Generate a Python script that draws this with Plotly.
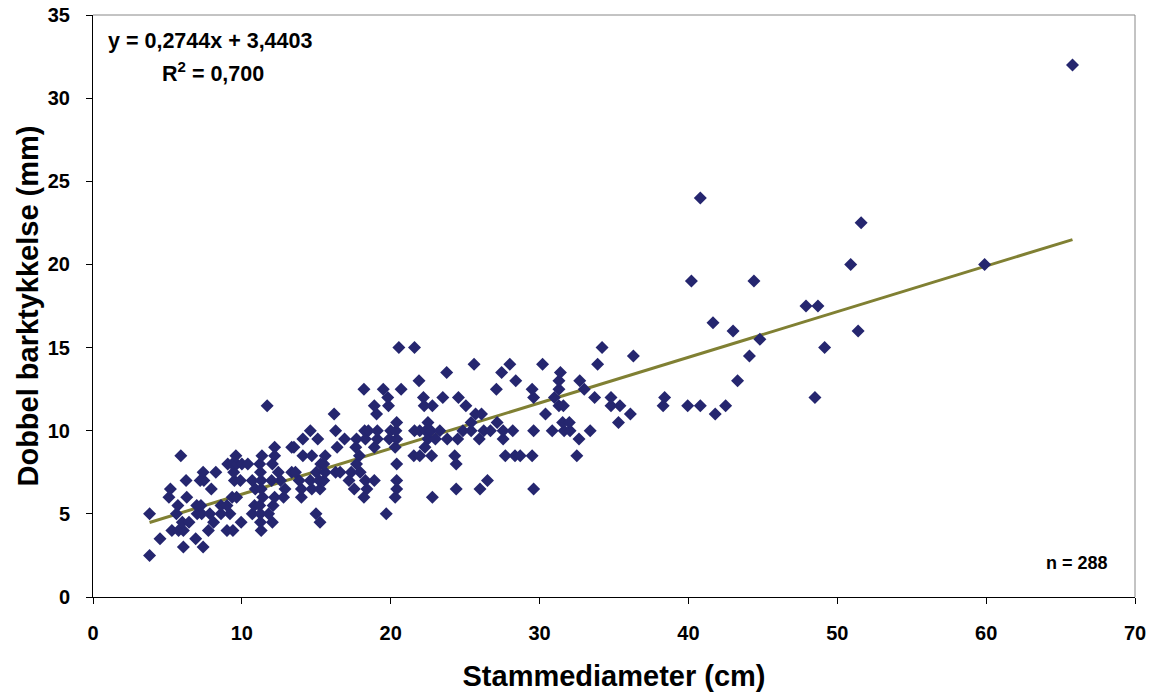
import plotly.graph_objects as go

# Bark thickness values (mm) grouped by level, with stem diameters (cm)
rows = {
    2.5: [3.8],
    3.0: [6.07, 7.4],
    3.5: [4.5, 6.9],
    4.0: [5.3, 5.75, 6.07, 7.75, 9.0, 9.4, 11.3],
    4.5: [6.0, 6.45, 8.1, 9.95, 11.25, 12.05, 15.25],
    5.0: [3.8, 5.6, 7.0, 7.3, 7.85, 8.6, 9.2, 10.7, 11.25, 11.8, 14.98, 19.7],
    5.5: [5.7, 6.97, 7.25, 8.6, 9.0, 10.85, 11.2, 12.1],
    6.0: [5.1, 6.3, 9.35, 9.65, 11.4, 12.2, 12.8, 14.0, 18.2, 20.3, 22.8],
    6.5: [5.2, 7.95, 10.9, 11.3, 12.9, 14.0, 14.7, 15.25, 17.55, 18.4, 20.4, 24.4, 26.0, 29.6],
    7.0: [6.25, 7.2, 7.45, 9.5, 9.9, 10.7, 11.3, 12.0, 12.6, 13.85, 14.6, 15.2, 15.5, 17.2, 18.3, 18.9, 20.4, 26.5],
    7.5: [7.4, 8.25, 9.45, 11.25, 12.45, 13.35, 13.6, 15.0, 15.6, 16.3, 16.6, 17.35, 17.95],
    8.0: [9.05, 9.35, 9.65, 10.0, 10.4, 11.2, 12.05, 15.3, 15.5, 17.7, 20.4, 24.4],
    8.5: [5.9, 9.6, 11.35, 12.2, 14.1, 14.7, 15.6, 17.9, 21.55, 21.95, 22.75, 24.3, 27.7, 28.35, 28.7, 29.5, 32.5],
    9.0: [12.2, 13.35, 13.5, 16.4, 17.65, 18.9, 20.3, 22.3],
    9.5: [14.1, 15.1, 16.9, 17.7, 18.3, 19.1, 19.9, 20.4, 22.5, 23.0, 23.8, 24.5, 25.95, 27.55, 32.65],
    10.0: [14.6, 16.3, 18.25, 18.5, 19.1, 20.0, 20.35, 21.6, 21.95, 22.35, 22.7, 23.3, 24.85, 25.4,
           26.25, 26.7, 27.55, 28.2, 29.6, 30.85, 31.65, 32.05, 33.4],
    10.5: [20.4, 22.5, 25.4, 27.15, 31.55, 32.0, 35.3],
    11.0: [16.2, 19.05, 25.7, 26.1, 30.4, 36.1, 41.8],
    11.5: [11.7, 18.9, 19.85, 22.25, 22.8, 25.05, 31.3, 31.6, 34.8, 35.4, 38.3, 39.95, 40.8, 42.5],
    12.0: [19.8, 22.2, 23.5, 24.55, 29.6, 31.0, 33.7, 34.8, 38.4, 48.5],
    12.5: [18.2, 19.5, 20.7, 27.1, 29.5, 31.3, 33.0],
    13.0: [21.9, 28.4, 31.3, 32.7, 43.3],
    13.5: [23.76, 27.45, 31.4],
    14.0: [25.6, 28.0, 30.2, 33.9],
    14.5: [36.3, 44.1],
    15.0: [20.55, 21.6, 34.2, 49.15],
    15.5: [44.8],
    16.0: [43.0, 51.4],
    16.5: [41.65],
    17.5: [47.9, 48.7],
    19.0: [40.2, 44.4],
    20.0: [50.9, 59.9],
    22.5: [51.6],
    24.0: [40.8],
    32.0: [65.8],
}
diameter = [x for y, xs in rows.items() for x in xs]
bark = [y for y, xs in rows.items() for x in xs]

slope = 0.2744
intercept = 3.4403
trend_x = [min(diameter), max(diameter)]
trend_y = [slope * v + intercept for v in trend_x]

font = "Liberation Sans, Arial, sans-serif"

fig = go.Figure()
fig.add_trace(go.Scatter(x=trend_x, y=trend_y, mode="lines",
                         line=dict(color="#808033", width=3), hoverinfo="skip"))
fig.add_trace(go.Scatter(x=diameter, y=bark, mode="markers",
                         marker=dict(symbol="diamond", size=10, color="#25266f",
                                     line=dict(width=0))))

fig.update_layout(
    width=1154, height=693,
    margin=dict(l=93, r=19, t=15, b=96),
    paper_bgcolor="white", plot_bgcolor="white",
    showlegend=False,
    font=dict(family=font, color="black"),
    xaxis=dict(range=[0, 70], dtick=10, showgrid=False, zeroline=False,
               automargin=False,
               showline=True, linecolor="black", linewidth=1,
               ticks="outside", ticklen=6, tickcolor="black",
               ticklabelstandoff=12,
               tickfont=dict(family=font, size=20, color="black", weight="bold"),
               title=dict(text="Stammediameter (cm)", standoff=22,
                          font=dict(family=font, size=29, color="black", weight="bold"))),
    yaxis=dict(range=[0, 35], dtick=5, showgrid=False, zeroline=False,
               automargin=False,
               showline=True, linecolor="black", linewidth=1,
               ticks="outside", ticklen=6, tickcolor="black",
               ticklabelstandoff=12,
               tickfont=dict(family=font, size=20, color="black", weight="bold"),
               title=dict(text="Dobbel barktykkelse (mm)", standoff=0,
                          font=dict(family=font, size=29, color="black", weight="bold"))),
    shapes=[dict(type="line", xref="paper", yref="paper", x0=0, x1=1, y0=1, y1=1,
                 line=dict(color="#888888", width=1)),
            dict(type="line", xref="paper", yref="paper", x0=1, x1=1, y0=0, y1=1,
                 line=dict(color="#888888", width=1))],
    annotations=[
        dict(text="y = 0,2744x + 3,4403", xref="paper", yref="paper", x=0.0125, y=0.955,
             xanchor="left", yanchor="middle", showarrow=False,
             font=dict(family=font, size=21.5, color="black", weight="bold")),
        dict(text="R<sup>2</sup> = 0,700", xref="paper", yref="paper", x=0.0645, y=0.902,
             xanchor="left", yanchor="middle", showarrow=False,
             font=dict(family=font, size=21.5, color="black", weight="bold")),
        dict(text="n = 288", xref="paper", yref="paper", x=0.976, y=0.058,
             xanchor="right", yanchor="middle", showarrow=False,
             font=dict(family=font, size=18, color="black", weight="bold")),
    ],
)

fig.write_html("out.html")
